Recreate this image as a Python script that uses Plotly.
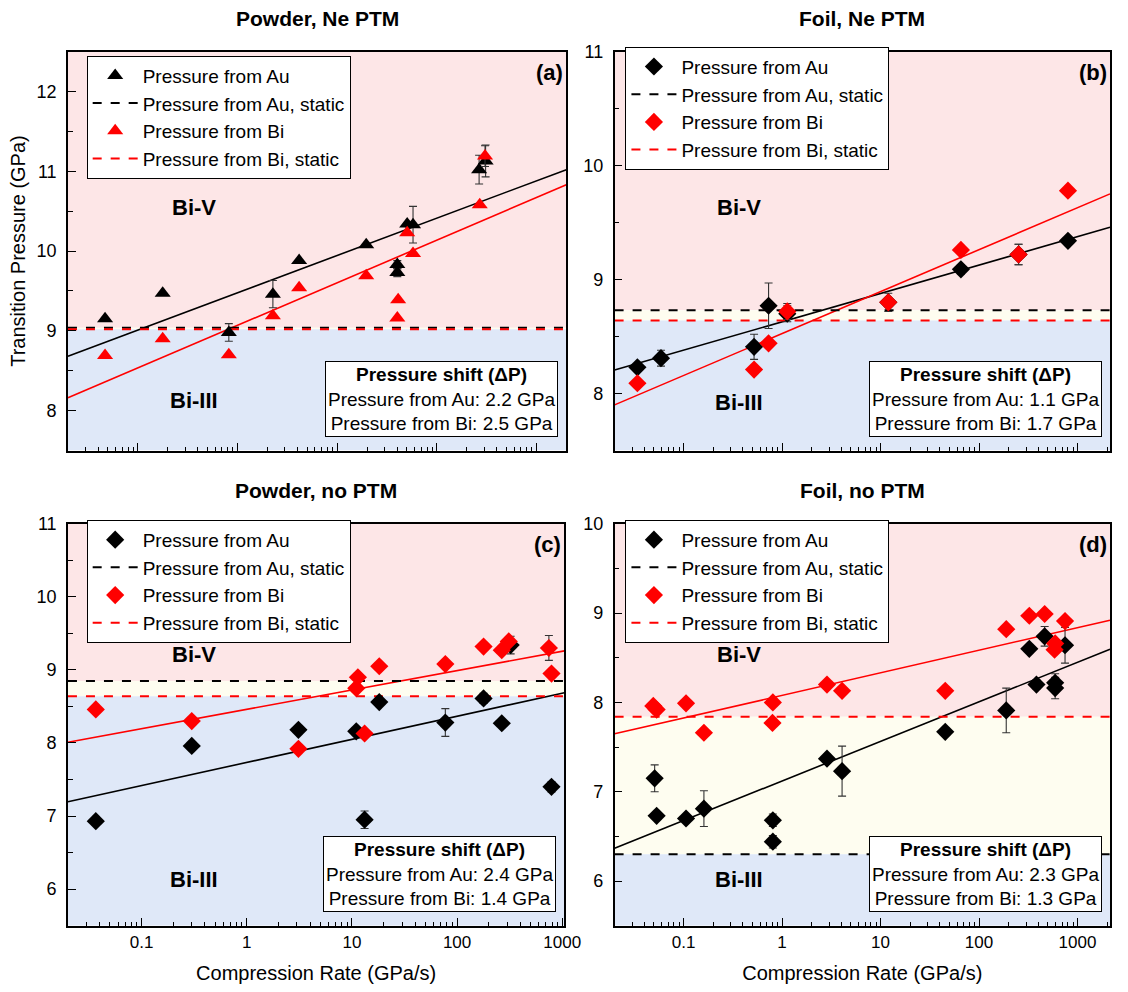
import numpy as np
import plotly.graph_objects as go

# ---------------- data ----------------
# (a) Powder, Ne PTM
a_rate_au = [0.047, 0.178, 0.82, 2.27, 4.16, 19.6, 40.2, 40.2, 50.5, 57.8, 266, 309]
a_p_au = [9.15, 9.47, 8.98, 9.46, 9.88, 10.08, 9.83, 9.73, 10.34, 10.33, 11.02, 11.13]
a_err_au = [0, 0, 0.11, 0.17, 0, 0, 0.05, 0.05, 0, 0.23, 0.18, 0.2]
a_rate_bi = [0.047, 0.178, 0.82, 2.27, 4.16, 19.6, 40.2, 41.0, 50.5, 57.8, 270, 305]
a_p_bi = [8.69, 8.90, 8.70, 9.19, 9.54, 9.69, 9.16, 9.39, 10.23, 9.97, 10.58, 11.19]
a_err_bi = [0, 0, 0, 0, 0, 0, 0, 0, 0, 0, 0, 0.13]

# (b) Foil, Ne PTM
b_rate_au = [0.034, 0.059, 0.52, 0.73, 1.13, 12.0, 65.5, 252, 800]
b_p_au = [8.23, 8.31, 8.41, 8.77, 8.70, 8.80, 9.09, 9.22, 9.34]
b_err_au = [0.02, 0.07, 0.11, 0.2, 0.07, 0.08, 0.04, 0.09, 0.02]
b_rate_bi = [0.034, 0.52, 0.73, 1.13, 12.0, 65.5, 252, 800]
b_p_bi = [8.09, 8.21, 8.44, 8.72, 8.80, 9.26, 9.22, 9.78]
b_err_bi = [0, 0, 0, 0.07, 0, 0, 0.09, 0]

# (c) Powder, no PTM
c_rate_au = [0.0367, 0.30, 3.1, 11.0, 13.2, 18.2, 77.3, 178.5, 266, 323, 790]
c_p_au = [6.93, 7.96, 8.18, 8.16, 6.95, 8.56, 8.28, 8.61, 8.27, 9.34, 7.40]
c_err_au = [0.05, 0, 0.05, 0, 0.12, 0, 0.19, 0.07, 0, 0.12, 0.07]
c_rate_bi = [0.0367, 0.30, 3.1, 11.0, 11.4, 13.2, 18.2, 77.3, 178.5, 266, 310, 746, 790]
c_p_bi = [8.46, 8.30, 7.92, 8.75, 8.90, 8.13, 9.05, 9.08, 9.32, 9.27, 9.39, 9.30, 8.95]
c_err_bi = [0, 0, 0, 0, 0, 0, 0, 0, 0, 0, 0, 0.17, 0]

# (d) Foil, no PTM
d_rate_au = [0.0509, 0.0533, 0.106, 0.161, 0.807, 0.807, 2.86, 4.07, 45.4, 189, 324, 383, 464, 593, 593, 747]
d_p_au = [7.15, 6.73, 6.70, 6.81, 6.68, 6.44, 7.37, 7.23, 7.67, 7.91, 8.60, 8.20, 8.74, 8.22, 8.16, 8.64]
d_err_au = [0.15, 0, 0, 0.2, 0.07, 0.07, 0.05, 0.28, 0.03, 0.25, 0, 0.05, 0.11, 0.1, 0.12, 0.2]
d_rate_bi = [0.0493, 0.0533, 0.106, 0.161, 0.807, 0.80, 2.86, 4.07, 45.4, 189, 324, 464, 593, 585, 747]
d_p_bi = [7.96, 7.92, 7.99, 7.66, 8.00, 7.77, 8.20, 8.13, 8.13, 8.82, 8.97, 8.99, 8.66, 8.59, 8.91]
d_err_bi = [0] * 15

# static transition pressures (Au, Bi)
static_au = [9.04, 8.73, 8.85, 6.30]
static_bi = [9.02, 8.64, 8.64, 7.84]

# linear fits in log10(rate): P = intercept + slope * log10(rate)
fit_au = [(9.476, 0.468), (8.629, 0.249), (7.734, 0.316), (7.120, 0.443)]
fit_bi = [(9.068, 0.534), (8.526, 0.368), (8.460, 0.265), (8.078, 0.253)]

shift_au = [2.2, 1.1, 2.4, 2.3]
shift_bi = [2.5, 1.7, 1.4, 1.3]

titles = ["Powder, Ne PTM", "Foil, Ne PTM", "Powder, no PTM", "Foil, no PTM"]
tags = ["(a)", "(b)", "(c)", "(d)"]

rate_au = [a_rate_au, b_rate_au, c_rate_au, d_rate_au]
p_au = [a_p_au, b_p_au, c_p_au, d_p_au]
err_au = [a_err_au, b_err_au, c_err_au, d_err_au]
rate_bi = [a_rate_bi, b_rate_bi, c_rate_bi, d_rate_bi]
p_bi = [a_p_bi, b_p_bi, c_p_bi, d_p_bi]
err_bi = [a_err_bi, b_err_bi, c_err_bi, d_err_bi]

# ---------------- layout geometry ----------------
W, H = 1128, 992
xdom = [(69, 575), (624, 1127), (69, 573), (624, 1127)]
ydom = [(42, 445), (42, 445), (519, 925), (519, 925)]
xrng = [(-1.7, 3.3), (-1.7, 3.33), (-1.7, 3.02), (-1.7, 3.33)]
yrng = [(7.5, 12.5), (7.5, 11.0), (5.5, 11.0), (5.5, 10.0)]
yticks = [[8, 9, 10, 11, 12], [8, 9, 10, 11], [6, 7, 8, 9, 10, 11], [6, 7, 8, 9, 10]]
symbols = ["triangle-up", "diamond", "diamond", "diamond"]
msize = [14, 14, 14, 14]
leg_top = [46, 37, 515, 515]      # legend box top, px
bi5_y = [0.61, 0.61, 0.675, 0.675]  # Bi-V label height in axis fraction
bi3_y = [0.125, 0.12, 0.115, 0.115]

PINK = "#fde6e7"
BLUE = "#dfe8f8"
YELLOW = "#fefdf0"
RED = "#ff0000"

ARIAL = "Liberation Sans, Arial, sans-serif"

fig = go.Figure()
shapes = []
annotations = []
layout = {}

for i in range(4):
    n = "" if i == 0 else str(i + 1)
    xa, ya = "x" + n, "y" + n
    leg = "legend" + n

    # fit lines
    lx = np.linspace(xrng[i][0], xrng[i][1], 50)
    for (b0, b1), col in ((fit_au[i], "black"), (fit_bi[i], RED)):
        fig.add_trace(go.Scatter(x=10 ** lx, y=b0 + b1 * lx, mode="lines",
                                 line=dict(color=col, width=1.6),
                                 showlegend=False, hoverinfo="skip",
                                 xaxis=xa, yaxis=ya))
    # static reference lines
    xs = [10 ** xrng[i][0], 10 ** xrng[i][1]]
    fig.add_trace(go.Scatter(x=xs, y=[static_au[i]] * 2, mode="lines",
                             line=dict(color="black", width=2, dash="dash"),
                             name="Pressure from Au, static", legend=leg,
                             legendrank=2, xaxis=xa, yaxis=ya))
    fig.add_trace(go.Scatter(x=xs, y=[static_bi[i]] * 2, mode="lines",
                             line=dict(color=RED, width=2, dash="dash"),
                             name="Pressure from Bi, static", legend=leg,
                             legendrank=4, xaxis=xa, yaxis=ya))
    # measured points
    for r, p, e, col, nm, rk in ((rate_au[i], p_au[i], err_au[i], "black", "Pressure from Au", 1),
                                 (rate_bi[i], p_bi[i], err_bi[i], RED, "Pressure from Bi", 3)):
        fig.add_trace(go.Scatter(x=r, y=p, mode="markers", name=nm, legend=leg,
                                 legendrank=rk,
                                 marker=dict(symbol=symbols[i], size=msize[i], color=col,
                                             line=dict(width=0)),
                                 error_y=dict(type="data", array=e, visible=True,
                                              color="#333333", thickness=1.1, width=4),
                                 xaxis=xa, yaxis=ya))

    x0, x1 = xdom[i][0] / W, xdom[i][1] / W
    y0, y1 = 1 - ydom[i][1] / H, 1 - ydom[i][0] / H
    bottom = i >= 2
    layout["xaxis" + n] = dict(
        type="log", domain=[x0, x1], range=list(xrng[i]), anchor=ya,
        showline=True, linecolor="black", linewidth=1.5, mirror=True,
        ticks="inside", ticklen=8, tickwidth=1.2, tickcolor="black",
        tickvals=[0.1, 1, 10, 100, 1000], ticktext=["0.1", "1", "10", "100", "1000"],
        showticklabels=bottom, showgrid=False, zeroline=False,
        tickfont=dict(family=ARIAL, size=17, color="black"),
        minor=dict(ticks="inside", ticklen=4, tickwidth=1, tickcolor="black",
                   dtick="D1", showgrid=False),
        title=dict(text="Compression Rate (GPa/s)" if bottom else "",
                   font=dict(family=ARIAL, size=20, color="black"), standoff=15),
    )
    layout["yaxis" + n] = dict(
        domain=[y0, y1], range=list(yrng[i]), anchor=xa,
        showline=True, linecolor="black", linewidth=1.5, mirror=True,
        ticks="inside", ticklen=8, tickwidth=1.2, tickcolor="black",
        tickvals=yticks[i], showgrid=False, zeroline=False,
        tickfont=dict(family=ARIAL, size=18, color="black"), ticklabelstandoff=6,
        minor=dict(ticks="inside", ticklen=5, tickwidth=1, tickcolor="black",
                   dtick=0.5, showgrid=False),
        title=dict(text="Transition Pressure (GPa)" if i == 0 else "",
                   font=dict(family=ARIAL, size=20, color="black"), standoff=6),
    )
    layout[leg] = dict(
        x=(xdom[i][0] + (19 if i % 2 == 0 else 11)) / W, y=1 - leg_top[i] / H,
        xanchor="left", yanchor="top", bgcolor="white", bordercolor="black",
        borderwidth=1, font=dict(family=ARIAL, size=19, color="black"),
        tracegroupgap=0, itemwidth=45,
    )

    # phase regions
    hi, lo = max(static_au[i], static_bi[i]), min(static_au[i], static_bi[i])
    for yb, yt, c in ((hi, yrng[i][1], PINK), (lo, hi, YELLOW), (yrng[i][0], lo, BLUE)):
        shapes.append(dict(type="rect", xref=xa + " domain", yref=ya, x0=0, x1=1,
                           y0=yb, y1=yt, fillcolor=c, line=dict(width=0), layer="below"))

    # subplot title
    annotations.append(dict(text="<b>%s</b>" % titles[i], xref="paper", yref="paper",
                            x=(x0 + x1) / 2, y=y1, yshift=20, xanchor="center", yanchor="bottom",
                            showarrow=False, font=dict(family=ARIAL, size=21, color="black")))
    # panel tag
    annotations.append(dict(text="<b>%s</b>" % tags[i], xref=xa + " domain", yref=ya + " domain",
                            x=0.997, y=0.948, xanchor="right", yanchor="middle", showarrow=False,
                            font=dict(family=ARIAL, size=22, color="black")))
    # phase names
    for txt, yy in (("Bi-V", bi5_y[i]), ("Bi-III", bi3_y[i])):
        annotations.append(dict(text="<b>%s</b>" % txt, xref=xa + " domain", yref=ya + " domain",
                                x=(197 - 69) / 506 if i % 2 == 0 else (750 - 624) / 503, y=yy,
                                xanchor="center", yanchor="middle", showarrow=False,
                                font=dict(family=ARIAL, size=22, color="black")))
    # pressure shift box
    annotations.append(dict(
        text="<b>Pressure shift (\u0394P)</b><br>Pressure from Au: %.1f GPa<br>Pressure from Bi: %.1f GPa"
             % (shift_au[i], shift_bi[i]),
        xref=xa + " domain", yref=ya + " domain",
        x=0.983, y=0.035, xanchor="right", yanchor="bottom", align="center",
        showarrow=False, bgcolor="white", bordercolor="black", borderwidth=1, borderpad=2,
        font=dict(family=ARIAL, size=19, color="black")))

fig.update_layout(
    width=W, height=H, margin=dict(l=0, r=0, t=0, b=0),
    paper_bgcolor="white", plot_bgcolor="white",
    shapes=shapes, annotations=annotations, **layout,
)

fig.write_html("out.html")
